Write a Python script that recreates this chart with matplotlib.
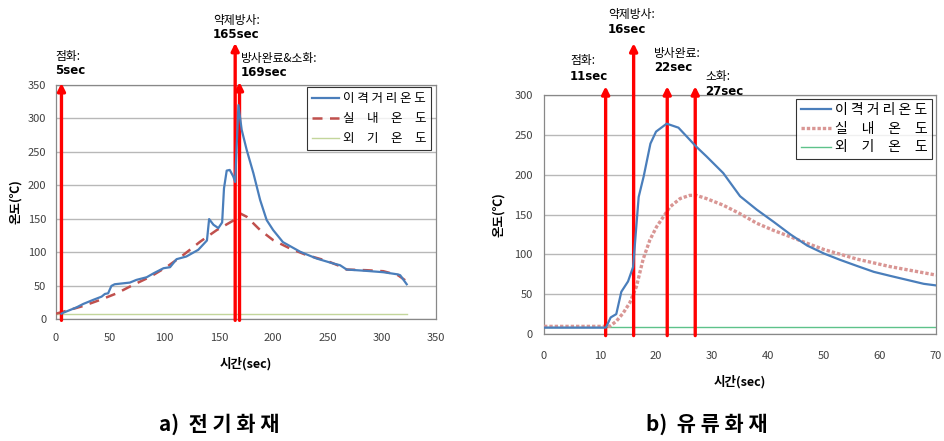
import matplotlib
matplotlib.use("Agg")
import matplotlib.pyplot as plt
import numpy as np

plt.rcParams['font.family'] = ['Noto Sans CJK KR', 'DejaVu Sans']

# ---- a) 전기화재 ----
a_sep_t = [5, 6.8, 19, 25, 34, 42, 45, 48, 51, 54, 68, 74, 83.5, 90, 99, 105, 111, 120, 131, 139,
           141, 145, 149.5, 153, 154.7, 157.2, 160, 163.3, 165, 168, 171, 175.6, 181.8, 188, 194,
           200, 209, 225, 240, 255.5, 261.6, 267.7, 286, 301.5, 315, 317, 323]
a_sep_v = [8, 9.5, 17.5, 22.5, 28.5, 33.5, 37.5, 38.5, 49.5, 52, 54.5, 58.5, 62.5, 68.5, 76, 77.5,
           89.5, 93.5, 103.5, 117.5, 149.5, 141, 136, 144.5, 195.5, 222, 223, 213, 205, 320, 283,
           253, 218, 178, 148, 133, 115, 100.5, 90.5, 83, 80.5, 74, 72, 70, 66.7, 65.5, 52]
a_in_t = [0, 6.8, 25, 40.5, 56, 71, 86.6, 102, 117, 132.6, 148, 163, 169.5, 175.6, 188, 200,
          215.5, 231, 249.5, 261.6, 267.7, 286, 301.5, 315, 321.5]
a_in_v = [8, 11, 19.5, 28.5, 38.5, 51, 63, 78, 95.5, 115.5, 133, 147, 158, 153, 133, 118,
          105.5, 95.5, 87, 79, 74, 73, 71.5, 65.5, 58]
a_out_t = [0, 323]
a_out_v = [8, 8]
a_events = [5, 165, 169]
a_event_names = ["점화:", "약제방사:", "방사완료&소화:"]
a_event_secs = ["5sec", "165sec", "169sec"]

# ---- b) 유류화재 ----
b_sep_t = [0, 11, 11.15, 11.9, 12.9, 13.8, 15, 15.9, 16.9, 17.8, 19, 20, 21.9, 24, 27.2, 29, 32,
           35, 38, 41, 44, 47, 50, 52.9, 55.9, 58.9, 61.8, 64.8, 67.8, 70]
b_sep_v = [8, 8, 9.6, 20.8, 25, 53, 66, 84, 172, 198, 239, 254, 264, 259, 235, 223, 202,
           173, 156, 140.8, 125, 111, 101, 93, 85.4, 78, 73, 68, 63, 61]
b_in_t = [0, 11.7, 12.9, 14.1, 15.3, 16.5, 17.7, 18.9, 20.1, 21.3, 22.5, 24.3, 26, 27.2, 29, 32,
          35, 38, 41, 44, 47, 50, 55.9, 61.8, 70]
b_in_v = [9.6, 9.6, 16, 26, 39, 59.6, 94, 118, 134.6, 147, 159.6, 170, 174, 174, 170, 161.7,
          151, 139, 130, 122, 113.8, 106, 94, 84.6, 74]
b_out_t = [0, 70]
b_out_v = [8.5, 8.5]
b_events = [11, 16, 22, 27]
b_event_names = ["점화:", "약제방사:", "방사완료:", "소화:"]
b_event_secs = ["11sec", "16sec", "22sec", "27sec"]

legend_labels = ["이 격 거 리 온 도", "실\u3000내\u3000온\u3000도", "외\u3000기\u3000온\u3000도"]

fig = plt.figure(figsize=(9.45, 4.41), dpi=100)
ax1 = fig.add_axes([0.0593, 0.2766, 0.4021, 0.5306])
ax2 = fig.add_axes([0.5757, 0.2426, 0.4148, 0.5420])


def style(ax, xmax, xstep, ymax, ystep, xpad, ypad):
    ax.set_xlim(0, xmax)
    ax.set_ylim(0, ymax)
    ax.set_xticks(np.arange(0, xmax + 1, xstep))
    ax.set_yticks(np.arange(0, ymax + 1, ystep))
    ax.yaxis.grid(True, color='#b8b8b8', lw=1)
    ax.set_axisbelow(True)
    ax.tick_params(axis='x', length=0, pad=xpad, labelsize=8, labelcolor='#404040')
    ax.tick_params(axis='y', length=0, pad=ypad, labelsize=8, labelcolor='#404040')
    for s in ax.spines.values():
        s.set_color('#888888')
        s.set_linewidth(0.9)


def arrows(ax, xs, tops, names, secs, name_x, name_y, sec_y):
    for x, top, n, s, nx, ny, sy in zip(xs, tops, names, secs, name_x, name_y, sec_y):
        ax.annotate('', xy=(x, top), xytext=(x, -2),
                    arrowprops=dict(arrowstyle='-|>', color='red', lw=2.4,
                                    mutation_scale=11, shrinkA=0, shrinkB=0),
                    annotation_clip=False)
        ax.text(nx, ny, n, fontsize=8.5, ha='left', va='center', clip_on=False)
        ax.text(nx, sy, s, fontsize=8.5, ha='left', va='center', clip_on=False,
                fontweight='bold', family=['DejaVu Sans'])


# left chart
style(ax1, 350, 50, 350, 50, 10, 7)
l1, = ax1.plot(a_sep_t, a_sep_v, color='#4a7ebb', lw=1.6, zorder=4)
l2, = ax1.plot(a_in_t, a_in_v, color='#c0504d', lw=1.8, ls=(0, (4, 3)), zorder=3)
l3, = ax1.plot(a_out_t, a_out_v, color='#c3d69b', lw=1.0, zorder=2)
arrows(ax1, a_events, [353, 413, 354.5], a_event_names, a_event_secs,
       [-1, 144.6, 170.4], [392, 447, 390], [371, 426, 369])
ax1.set_xlabel("시간(sec)", fontsize=9, fontweight='bold', labelpad=10)
ax1.set_ylabel("온도(℃)", fontsize=9, fontweight='bold', labelpad=4)
leg1 = ax1.legend([l1, l2, l3], legend_labels, loc='upper right', bbox_to_anchor=(0.988, 0.99),
                  fontsize=9, frameon=True, fancybox=False, handlelength=2.2,
                  handletextpad=0.3, borderpad=0.4, labelspacing=0.55, borderaxespad=0)
leg1.get_frame().set_edgecolor('black')
leg1.get_frame().set_linewidth(0.8)

# right chart
style(ax2, 70, 10, 300, 50, 12, 8)
m1, = ax2.plot(b_sep_t, b_sep_v, color='#4a7ebb', lw=1.6, zorder=4)
m2, = ax2.plot(b_in_t, b_in_v, color='#d99694', lw=2.4, ls=(0, (1, 0.6)), zorder=3)
m3, = ax2.plot(b_out_t, b_out_v, color='#5ec28a', lw=1.0, zorder=2)
arrows(ax2, b_events, [311, 365, 311, 311], b_event_names, b_event_secs,
       [4.64, 11.4, 19.6, 28.75], [342.7, 400.4, 352.7, 322.6], [322.6, 382.8, 333.9, 305])
ax2.set_xlabel("시간(sec)", fontsize=9, fontweight='bold', labelpad=10)
ax2.set_ylabel("온도(℃)", fontsize=9, fontweight='bold', labelpad=7)
leg2 = ax2.legend([m1, m2, m3], legend_labels, loc='upper right', bbox_to_anchor=(0.99, 0.985),
                  fontsize=10, frameon=True, fancybox=False, handlelength=2.2,
                  handletextpad=0.3, borderpad=0.3, labelspacing=0.35, borderaxespad=0)
leg2.get_frame().set_edgecolor('black')
leg2.get_frame().set_linewidth(0.8)

fig.text(219 / 945, 1 - 424 / 441, "a)  전 기 화 재", fontsize=15, fontweight='bold',
         ha='center', va='center')
fig.text(707 / 945, 1 - 424 / 441, "b)  유 류 화 재", fontsize=15, fontweight='bold',
         ha='center', va='center')

fig.savefig("out.png", dpi=100)
